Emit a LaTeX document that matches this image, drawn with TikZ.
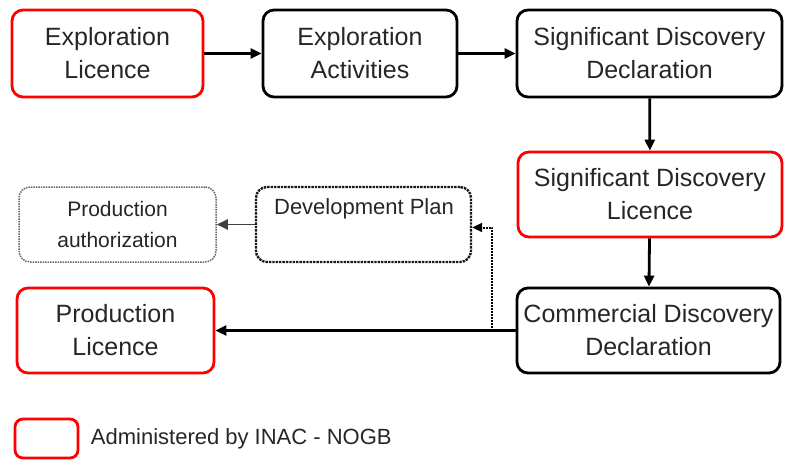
\documentclass[tikz,border=0pt]{standalone}
\usepackage{fontspec}
\setmainfont{Liberation Sans}
\usetikzlibrary{arrows.meta,positioning}
\begin{document}
\begin{tikzpicture}[x=1pt,y=-1pt,
    box/.style={draw=black, line width=2.8pt, rounded corners=11pt, align=center,
        inner sep=0pt, font=\fontsize{25}{33}\selectfont, text=black!85},
    licence/.style={box, draw=red},
    plan/.style={box, line width=2.4pt, densely dotted, draw=black!90},
    auth/.style={box, line width=1.5pt, densely dotted, draw=black!60},
    flow/.style={line width=2.8pt, -{Triangle[length=11pt,width=10pt]}}]
    \useasboundingbox (0,0) rectangle (785,466);
    % top row
    \node[licence, minimum width=191pt, minimum height=87pt] (el) at (107.5,53.5) {Exploration\\Licence};
    \node[box, minimum width=194pt, minimum height=87pt] (ea) at (360,53.5) {Exploration\\Activities};
    \node[box, minimum width=265pt, minimum height=87pt] (sdd) at (649.5,53.5) {Significant Discovery\\Declaration};
    % right column
    \node[licence, minimum width=264pt, minimum height=85pt] (sdl) at (650,194.5) {Significant Discovery\\Licence};
    \node[box, minimum width=263pt, minimum height=85pt] (cdd) at (648.5,330.5) {Commercial Discovery\\Declaration};
    % left side
    \node[licence, minimum width=197pt, minimum height=85pt] (pl) at (115.5,330.5) {Production\\Licence};
    \node[auth, minimum width=197pt, minimum height=75pt, font=\fontsize{21}{31}\selectfont] (pa) at (117.5,224.5) {Production\\authorization};
    \node[plan, minimum width=215pt, minimum height=75pt] (dp) at (363.5,224.5) {};
    \node[font=\fontsize{22}{31}\selectfont, text=black!85] (dptext) at (364,209) {Development Plan};
    % legend
    \node[licence, minimum width=63pt, minimum height=39pt, rounded corners=8pt] (key) at (46.5,438.5) {};
    \node[right=8pt of key, font=\fontsize{22}{26}\selectfont, text=black!85] (keytext) {Administered by INAC - NOGB};
    % connectors
    \draw[flow] (el) -- (ea);
    \draw[flow] (ea) -- (sdd);
    \draw[flow] (sdd) -- (sdl);
    \draw[flow] (sdl) -- (cdd);
    \draw[flow] (cdd) -- (pl);
    \draw[flow, line width=1.8pt, black!75] (dp) -- (pa);
    \coordinate (tap) at (492,328);
    \draw[line width=2pt, densely dotted, -{Triangle[length=10pt,width=9pt]}] (tap) |- ([yshift=-3pt]dp.east);
\end{tikzpicture}
\end{document}
